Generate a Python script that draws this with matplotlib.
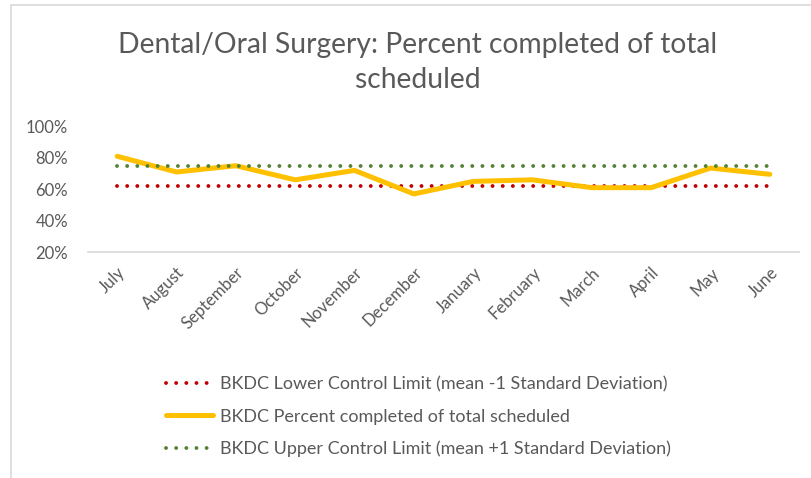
import numpy as np
import matplotlib.pyplot as plt
from matplotlib.patches import Rectangle
from matplotlib.ticker import FuncFormatter

months = ["July", "August", "September", "October", "November", "December",
          "January", "February", "March", "April", "May", "June"]
percent_completed = [81, 71, 75, 66, 72, 57, 65, 66, 61, 61, 73.5, 69.5]
lower_limit = [62] * 12
upper_limit = [74.5] * 12

plt.rcParams['font.family'] = ['Lato', 'DejaVu Sans']
grey = "#595959"

fig = plt.figure(figsize=(8.12, 4.78), dpi=100)
ax = fig.add_axes([0.1078, 0.4728, 0.8768, 0.2626])

x = np.arange(len(months))
dots = (0, (0.01, 2.6))
ax.plot(x, lower_limit, color="#C00000", lw=2.8, linestyle=dots,
        dash_capstyle='round', label="BKDC Lower Control Limit (mean -1 Standard Deviation)")
ax.plot(x, percent_completed, color="#FFC000", lw=3.6, solid_capstyle='round',
        solid_joinstyle='round', label="BKDC Percent completed of total scheduled")
ax.plot(x, upper_limit, color="#548235", lw=2.8, linestyle=dots,
        dash_capstyle='round', label="BKDC Upper Control Limit (mean +1 Standard Deviation)")

ax.set_xlim(-0.5, len(months) - 0.5)
ax.set_ylim(20, 100)
ax.set_yticks([20, 40, 60, 80, 100])
ax.yaxis.set_major_formatter(FuncFormatter(lambda v, p: f"{v:.0f}%"))
ax.set_xticks(x)
ax.set_xticklabels(months, rotation=45, ha='right', rotation_mode='anchor')
ax.tick_params(axis='both', length=0, colors=grey, labelsize=12)
ax.tick_params(axis='y', pad=14)
ax.tick_params(axis='x', pad=9)
for s in ['top', 'right', 'left']:
    ax.spines[s].set_visible(False)
ax.spines['bottom'].set_color("#D9D9D9")
ax.spines['bottom'].set_linewidth(1.2)

fig.text(418 / 812, 1 - 45 / 478, "Dental/Oral Surgery: Percent completed of total",
         ha='center', va='center', fontsize=20.3, color=grey)
fig.text(418 / 812, 1 - 80 / 478, "scheduled",
         ha='center', va='center', fontsize=20.3, color=grey)

fig.legend(loc='upper left', bbox_to_anchor=(150 / 812, 1 - 360 / 478),
           frameon=False, fontsize=13, labelcolor=grey,
           handlelength=2.6, handletextpad=0.35, labelspacing=0.9)

fig.patches.append(Rectangle((11 / 812, -0.1), 1.2, 1.1 - 5 / 478,
                             transform=fig.transFigure, fill=False,
                             edgecolor="#D9D9D9", lw=1.2))

fig.savefig("out.png", dpi=100)
